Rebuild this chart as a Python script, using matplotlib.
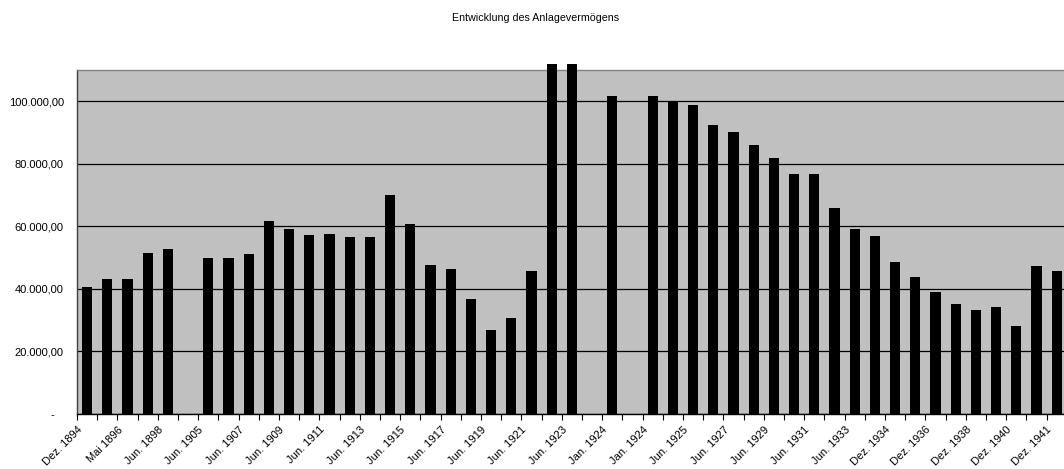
import numpy as np
import matplotlib.pyplot as plt
import matplotlib.transforms as mtransforms
from matplotlib.ticker import FuncFormatter, MultipleLocator, FixedLocator

plt.rcParams['font.family'] = ['Liberation Sans', 'DejaVu Sans']

# one entry per period; None where no figure was booked
values = [40700, 43200, 43200, 51500, 52700, None, 50000, 50000, 51100, 61800,
          59200, 57200, 57700, 56500, 56700, 70000, 60800, 47800, 46400, 36900,
          26800, 30700, 45700, 112000, 112000, None, 101700, None, 101700, 100200,
          98700, 92300, 90200, 85900, 81900, 76700, 76700, 65900, 59100, 56900,
          48700, 43900, 38900, 35200, 33300, 34100, 28200, 47200, 45700]

tick_labels = ["Dez. 1894", "Mai 1896", "Jun. 1898", "Jun. 1905", "Jun. 1907",
               "Jun. 1909", "Jun. 1911", "Jun. 1913", "Jun. 1915", "Jun. 1917",
               "Jun. 1919", "Jun. 1921", "Jun. 1923", "Jan. 1924", "Jan. 1924",
               "Jun. 1925", "Jun. 1927", "Jun. 1929", "Jun. 1931", "Jun. 1933",
               "Dez. 1934", "Dez. 1936", "Dez. 1938", "Dez. 1940", "Dez. 1941"]


def de_number(v, pos):
    if v == 0:
        return "-   "
    s = f"{v:,.2f}"
    return s.replace(",", "X").replace(".", ",").replace("X", ".")


fig = plt.figure(figsize=(10.64, 4.69), dpi=100)
ax = fig.add_axes([77 / 1064, 55 / 469, 49 * 20.2 / 1064, 344 / 469])
ax.set_facecolor("#c0c0c0")

idx = [i for i, v in enumerate(values) if v is not None]
hts = [values[i] for i in idx]
bars = ax.bar(idx, hts, width=0.5, color="black", zorder=3)
for b in bars:
    b.set_clip_on(False)

ax.set_xlim(-0.5, len(values) - 0.5)
ax.set_ylim(0, 110000)

ax.yaxis.set_major_locator(MultipleLocator(20000))
ax.yaxis.set_major_formatter(FuncFormatter(de_number))
ax.tick_params(axis="y", length=0, pad=9.5, labelsize=8)
ax.grid(axis="y", color="black", linewidth=0.9, zorder=1)
ax.set_axisbelow(True)

# labels on every second category, tick marks on the boundaries
ax.xaxis.set_major_locator(FixedLocator(np.arange(0, len(values), 2)))
ax.set_xticklabels(tick_labels, rotation=45, ha="right", rotation_mode="anchor", fontsize=8)
ax.tick_params(axis="x", which="major", length=0, pad=9)
ax.xaxis.set_minor_locator(FixedLocator(np.arange(-0.5, len(values), 1)))
ax.tick_params(axis="x", which="minor", length=4, width=0.8, direction="out")
shift = mtransforms.ScaledTranslation(-10 / 100, 2 / 100, fig.dpi_scale_trans)
for lab in ax.get_xticklabels():
    lab.set_transform(lab.get_transform() + shift)

ax.spines["left"].set_color("#404040")
ax.spines["bottom"].set_color("black")
ax.spines["top"].set_color("#808080")
ax.spines["right"].set_color("#808080")
for s in ax.spines.values():
    s.set_linewidth(1.0)

fig.text(536 / 1064, 1 - 18 / 469, "Entwicklung des Anlagevermögens",
         ha="center", va="center", fontsize=7.7)

fig.savefig("out.png", dpi=100)
